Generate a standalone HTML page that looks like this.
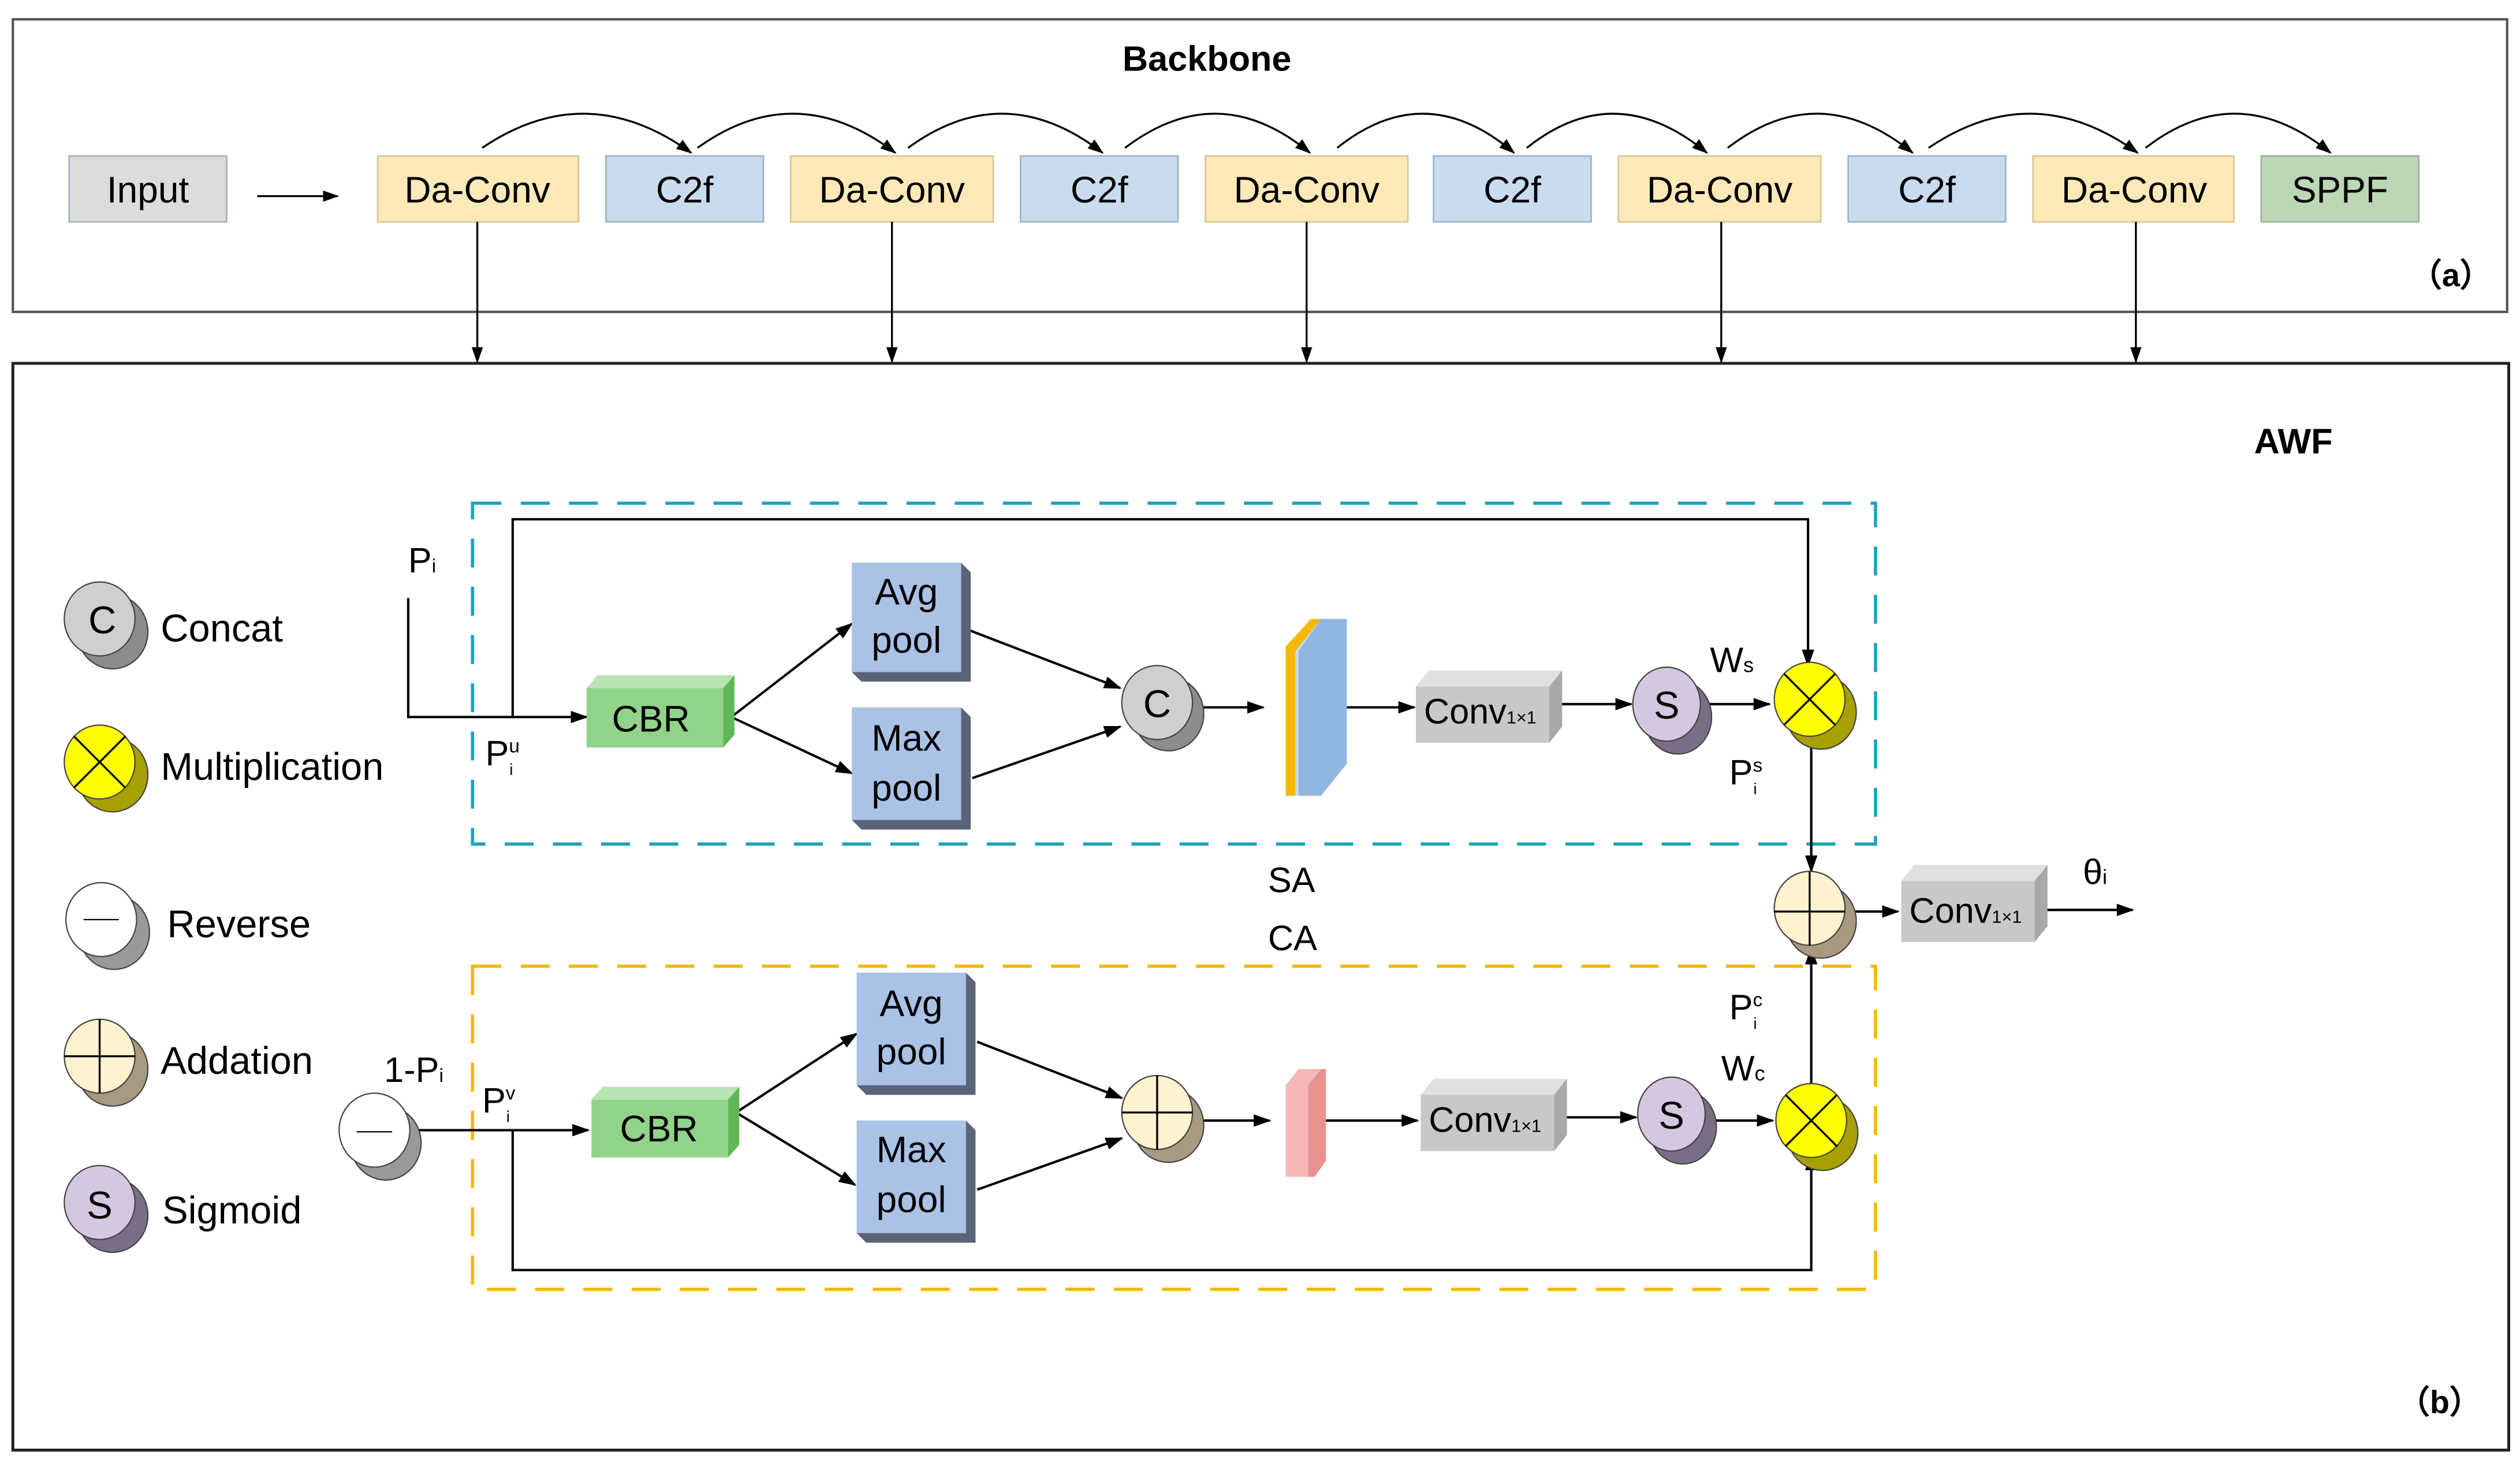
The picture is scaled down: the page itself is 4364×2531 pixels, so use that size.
<!DOCTYPE html>
<html><head><meta charset="utf-8"><style>
html,body{margin:0;padding:0;background:#fff;}
svg{display:block;}
text{font-family:"Liberation Sans",sans-serif;fill:#000;}
</style></head><body>
<svg width="4364" height="2531" viewBox="0 0 1568 909.4" xmlns="http://www.w3.org/2000/svg">
<defs>
<marker id="ar" viewBox="0 0 10 10" refX="9" refY="5" markerWidth="10" markerHeight="10" orient="auto" markerUnits="userSpaceOnUse"><path d="M0,1.5 L10,5 L0,8.5 z" fill="#000"/></marker>
<marker id="ar2" viewBox="0 0 10 10" refX="9" refY="5" markerWidth="11" markerHeight="11" orient="auto" markerUnits="userSpaceOnUse"><path d="M0,1.5 L10,5 L0,8.5 z" fill="#000"/></marker>
</defs>
<rect width="1568" height="909.4" fill="#fff"/>
<rect x="8" y="12" width="1552" height="182" fill="none" stroke="#555" stroke-width="1.5"/>
<text x="751" y="44" font-size="22" font-weight="bold" text-anchor="middle">Backbone</text>
<text x="1525" y="178" font-size="20" text-anchor="middle" font-weight="bold">（a）</text>
<g font-size="23" text-anchor="middle" stroke-width="1">
<rect x="43" y="97" width="98" height="41" fill="#dcdcdc" stroke="#9fb4c8"/><text x="92" y="126">Input</text>
<rect x="235" y="97" width="125" height="41" fill="#fde9b8" stroke="#d8c89a"/><text x="297" y="126">Da-Conv</text>
<rect x="377" y="97" width="98" height="41" fill="#c9dcef" stroke="#9fb4c8"/><text x="426" y="126">C2f</text>
<rect x="492" y="97" width="126" height="41" fill="#fde9b8" stroke="#d8c89a"/><text x="555" y="126">Da-Conv</text>
<rect x="635" y="97" width="98" height="41" fill="#c9dcef" stroke="#9fb4c8"/><text x="684" y="126">C2f</text>
<rect x="750" y="97" width="126" height="41" fill="#fde9b8" stroke="#d8c89a"/><text x="813" y="126">Da-Conv</text>
<rect x="892" y="97" width="98" height="41" fill="#c9dcef" stroke="#9fb4c8"/><text x="941" y="126">C2f</text>
<rect x="1007" y="97" width="126" height="41" fill="#fde9b8" stroke="#d8c89a"/><text x="1070" y="126">Da-Conv</text>
<rect x="1150" y="97" width="98" height="41" fill="#c9dcef" stroke="#9fb4c8"/><text x="1199" y="126">C2f</text>
<rect x="1265" y="97" width="125" height="41" fill="#fde9b8" stroke="#d8c89a"/><text x="1328" y="126">Da-Conv</text>
<rect x="1407" y="97" width="98" height="41" fill="#bcd7b5" stroke="#9fb49a"/><text x="1456" y="126">SPPF</text>
</g>
<g fill="none" stroke="#000" stroke-width="1.2" marker-end="url(#ar)">
<line x1="160" y1="122" x2="210" y2="122"/>
<path d="M300,92 Q365,48 430,95"/>
<path d="M434,92 Q495,48 557,95"/>
<path d="M565,92 Q625,48 686,95"/>
<path d="M700,92 Q758,48 815,95"/>
<path d="M832,92 Q887,48 942,95"/>
<path d="M950,92 Q1005,48 1062,95"/>
<path d="M1075,92 Q1132,48 1190,95"/>
<path d="M1200,92 Q1265,48 1330,95"/>
<path d="M1335,92 Q1392,48 1450,95"/>
<line x1="297" y1="138" x2="297" y2="225"/>
<line x1="555" y1="138" x2="555" y2="225"/>
<line x1="813" y1="138" x2="813" y2="225"/>
<line x1="1071" y1="138" x2="1071" y2="225"/>
<line x1="1329" y1="138" x2="1329" y2="225"/>
</g>
<rect x="8" y="226" width="1553" height="676" fill="none" stroke="#222" stroke-width="1.8"/>
<text x="1427" y="282" font-size="22" font-weight="bold" text-anchor="middle">AWF</text>
<text x="1518" y="879" font-size="20" text-anchor="middle" font-weight="bold">（b）</text>
<rect x="294" y="313" width="873" height="212" fill="none" stroke="#1aa3c0" stroke-width="2" stroke-dasharray="18,12"/>
<rect x="294" y="601" width="873" height="201" fill="none" stroke="#f5b800" stroke-width="2" stroke-dasharray="18,12"/>
<g stroke="#444" stroke-width="0.8">
<ellipse cx="70" cy="393" rx="22" ry="23" fill="#8c8c8c"/><ellipse cx="62" cy="385" rx="22" ry="23" fill="#cfcfcf"/>
<ellipse cx="70" cy="482" rx="22" ry="23" fill="#a6a000"/><ellipse cx="62" cy="474" rx="22" ry="23" fill="#ffff00"/>
<ellipse cx="71" cy="580" rx="22" ry="23" fill="#999"/><ellipse cx="63" cy="572" rx="22" ry="23" fill="#fff"/>
<ellipse cx="70" cy="665" rx="22" ry="23" fill="#a89a80"/><ellipse cx="62" cy="657" rx="22" ry="23" fill="#fff2cf"/>
<ellipse cx="70" cy="756" rx="22" ry="23" fill="#7a6e86"/><ellipse cx="62" cy="748" rx="22" ry="23" fill="#d6c7e0"/>
</g>
<g stroke="#000" stroke-width="1.2">
<line x1="46" y1="458" x2="78" y2="490"/><line x1="78" y1="458" x2="46" y2="490"/>
<line x1="52" y1="572" x2="74" y2="572" stroke-width="0.8"/>
<line x1="40" y1="657" x2="84" y2="657"/><line x1="62" y1="634" x2="62" y2="680"/>
</g>
<g font-size="24">
<text x="55" y="394">C</text><text x="100" y="399">Concat</text>
<text x="100" y="485">Multiplication</text>
<text x="104" y="583">Reverse</text>
<text x="100" y="668">Addation</text>
<text x="54" y="758">S</text><text x="101" y="761">Sigmoid</text>
</g>
<g fill="none" stroke="#000" stroke-width="1.5">
<polyline points="254,372 254,446 365,446" marker-end="url(#ar2)"/>
<polyline points="319,446 319,323 1125,323 1125,414" marker-end="url(#ar2)"/>
<line x1="455" y1="446" x2="530" y2="388" marker-end="url(#ar2)"/>
<line x1="455" y1="446" x2="530" y2="481" marker-end="url(#ar2)"/>
<line x1="603" y1="392" x2="697" y2="428" marker-end="url(#ar2)"/>
<line x1="605" y1="484" x2="697" y2="452" marker-end="url(#ar2)"/>
<line x1="745" y1="440" x2="786" y2="440" marker-end="url(#ar2)"/>
<line x1="838" y1="440" x2="880" y2="440" marker-end="url(#ar2)"/>
<line x1="965" y1="438" x2="1015" y2="438" marker-end="url(#ar2)"/>
<line x1="1060" y1="438" x2="1101" y2="438" marker-end="url(#ar2)"/>
<line x1="1127" y1="458" x2="1127" y2="542" marker-end="url(#ar2)"/>
<line x1="1150" y1="567" x2="1181" y2="567" marker-end="url(#ar2)"/>
<line x1="1270" y1="566" x2="1327" y2="566" marker-end="url(#ar2)"/>
<line x1="258" y1="703" x2="366" y2="703" marker-end="url(#ar2)"/>
<polyline points="319,703 319,790 1127,790 1127,718" marker-end="url(#ar2)"/>
<line x1="458" y1="692" x2="533" y2="643" marker-end="url(#ar2)"/>
<line x1="458" y1="692" x2="532" y2="737" marker-end="url(#ar2)"/>
<line x1="608" y1="648" x2="698" y2="683" marker-end="url(#ar2)"/>
<line x1="608" y1="740" x2="698" y2="708" marker-end="url(#ar2)"/>
<line x1="748" y1="697" x2="790" y2="697" marker-end="url(#ar2)"/>
<line x1="825" y1="697" x2="882" y2="697" marker-end="url(#ar2)"/>
<line x1="968" y1="695" x2="1018" y2="695" marker-end="url(#ar2)"/>
<line x1="1063" y1="697" x2="1103" y2="697" marker-end="url(#ar2)"/>
<line x1="1127" y1="675" x2="1127" y2="590" marker-end="url(#ar2)"/>
</g>
<g stroke="none">
<polygon points="365,428 372,420 457,420 450,428" fill="#b8e3b2"/><polygon points="450,428 457,420 457,457 450,465" fill="#5fb856"/><rect x="365" y="428" width="85" height="37" fill="#92d38a"/>
<polygon points="368,684 375,676 460,676 453,684" fill="#b8e3b2"/><polygon points="453,684 460,676 460,712 453,720" fill="#5fb856"/><rect x="368" y="684" width="85" height="36" fill="#92d38a"/>
<polygon points="598,350 604,356 604,424 536,424 530,418 598,418" fill="#5a6478"/><rect x="530" y="350" width="68" height="68" fill="#aac2e6"/>
<polygon points="598,440 604,446 604,516 536,516 530,510 598,510" fill="#5a6478"/><rect x="530" y="440" width="68" height="70" fill="#aac2e6"/>
<polygon points="601,605 607,611 607,681 539,681 533,675 601,675" fill="#5a6478"/><rect x="533" y="605" width="68" height="70" fill="#aac2e6"/>
<polygon points="601,697 607,703 607,773 539,773 533,767 601,767" fill="#5a6478"/><rect x="533" y="697" width="68" height="70" fill="#aac2e6"/>
<polygon points="881,427 889,417 972,417 964,427" fill="#e0e0e0"/><polygon points="964,427 972,417 972,452 964,462" fill="#a8a8a8"/><rect x="881" y="427" width="83" height="35" fill="#c8c8c8"/>
<polygon points="884,681 892,671 975,671 967,681" fill="#e0e0e0"/><polygon points="967,681 975,671 975,706 967,716" fill="#a8a8a8"/><rect x="884" y="681" width="83" height="35" fill="#c8c8c8"/>
<polygon points="1183,548 1191,538 1274,538 1266,548" fill="#e0e0e0"/><polygon points="1266,548 1274,538 1274,576 1266,586" fill="#a8a8a8"/><rect x="1183" y="548" width="83" height="38" fill="#c8c8c8"/>
<polygon points="800,405 815,385 838,385 838,475 822,495 800,495" fill="#c8dcf0"/>
<polygon points="808,405 822,385 838,385 838,475 822,495 808,495" fill="#8fb7e0"/>
<polygon points="800,402 816,385 822,385 806,405 806,495 800,495" fill="#f6b800"/>
<polygon points="800,675 808,665 825,665 825,722 818,732 800,732" fill="#f5b8b6"/>
<polygon points="814,675 822,665 825,665 825,722 818,732 814,732" fill="#e89290"/>
</g>
<g font-size="23" text-anchor="middle">
<text x="405" y="455">CBR</text><text x="410" y="710">CBR</text>
<text x="564" y="376">Avg</text><text x="564" y="406">pool</text>
<text x="564" y="467">Max</text><text x="564" y="498">pool</text>
<text x="567" y="632">Avg</text><text x="567" y="662">pool</text>
<text x="567" y="723">Max</text><text x="567" y="754">pool</text>
</g>
<g font-size="22">
<text x="886" y="450">Conv<tspan font-size="11">1×1</tspan></text>
<text x="889" y="704">Conv<tspan font-size="11">1×1</tspan></text>
<text x="1188" y="574">Conv<tspan font-size="11">1×1</tspan></text>
</g>
<g stroke="#444" stroke-width="0.8">
<ellipse cx="727" cy="444" rx="22" ry="23" fill="#8c8c8c"/><ellipse cx="720" cy="437" rx="22" ry="23" fill="#cfcfcf"/>
<ellipse cx="1044" cy="446" rx="21" ry="23" fill="#7a6e86"/><ellipse cx="1037" cy="438" rx="21" ry="23" fill="#d6c7e0"/>
<ellipse cx="1133" cy="443" rx="22" ry="23" fill="#a6a000"/><ellipse cx="1126" cy="435" rx="22" ry="23" fill="#ffff00"/>
<ellipse cx="1133" cy="573" rx="22" ry="23" fill="#a89a80"/><ellipse cx="1126" cy="565" rx="22" ry="23" fill="#fff2cf"/>
<ellipse cx="240" cy="711" rx="22" ry="23" fill="#999"/><ellipse cx="233" cy="703" rx="22" ry="23" fill="#fff"/>
<ellipse cx="727" cy="700" rx="22" ry="23" fill="#a89a80"/><ellipse cx="720" cy="692" rx="22" ry="23" fill="#fff2cf"/>
<ellipse cx="1047" cy="701" rx="21" ry="23" fill="#7a6e86"/><ellipse cx="1040" cy="693" rx="21" ry="23" fill="#d6c7e0"/>
<ellipse cx="1134" cy="705" rx="22" ry="23" fill="#a6a000"/><ellipse cx="1127" cy="697" rx="22" ry="23" fill="#ffff00"/>
</g>
<g stroke="#000" stroke-width="1.2">
<line x1="1110" y1="419" x2="1142" y2="451"/><line x1="1142" y1="419" x2="1110" y2="451"/>
<line x1="1111" y1="681" x2="1143" y2="713"/><line x1="1143" y1="681" x2="1111" y2="713"/>
<line x1="1104" y1="567" x2="1148" y2="567"/><line x1="1126" y1="542" x2="1126" y2="588"/>
<line x1="698" y1="692" x2="742" y2="692"/><line x1="720" y1="669" x2="720" y2="715"/>
<line x1="222" y1="704" x2="244" y2="704" stroke-width="0.8"/>
</g>
<g font-size="24" text-anchor="middle">
<text x="720" y="446">C</text>
<text x="1037" y="447">S</text>
<text x="1040" y="702">S</text>
</g>
<g font-size="22">
<text x="254" y="356">P<tspan font-size="12">i</tspan></text>
<text x="302" y="476">P<tspan font-size="12" dy="-8">u</tspan></text><text x="317" y="482" font-size="10">i</text>
<text x="1064" y="418">W<tspan font-size="13">s</tspan></text>
<text x="1076" y="488">P<tspan font-size="12" dy="-8">s</tspan></text><text x="1091" y="494" font-size="10">i</text>
<text x="789" y="555">SA</text>
<text x="789" y="591">CA</text>
<text x="1296" y="550">θ<tspan font-size="13">i</tspan></text>
<text x="239" y="673">1-P<tspan font-size="12">i</tspan></text>
<text x="300" y="692">P<tspan font-size="12" dy="-8">v</tspan></text><text x="315" y="698" font-size="10">i</text>
<text x="1076" y="634">P<tspan font-size="12" dy="-8">c</tspan></text><text x="1091" y="640" font-size="10">i</text>
<text x="1071" y="672">W<tspan font-size="13">c</tspan></text>
</g>
</svg>
</body></html>
